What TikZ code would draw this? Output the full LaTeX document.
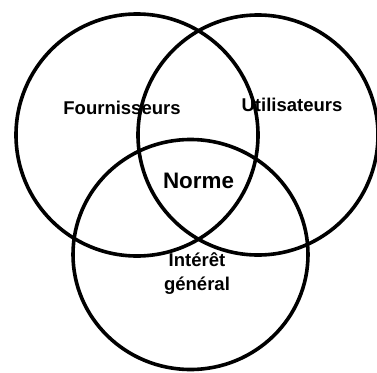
\documentclass[tikz,border=0pt]{standalone}
\usepackage{fontspec}
\setmainfont{Liberation Sans}
\begin{document}
\begin{tikzpicture}[x=1pt, y=-1pt, set/.style={draw, line width=3.6pt}, every node/.style={font=\bfseries\fontsize{18.5}{24}\selectfont, align=center}]
            \useasboundingbox (0,0) rectangle (377,372);

            % Circles
            \draw[set] (137,135) circle[radius=121pt];
            \draw[set] (258,135) circle[radius=120pt];
            \draw[set] (190.5,254.5) ellipse[x radius=117.5pt, y radius=115pt];

            % Labels
            \node at (122,108) (four) {Fournisseurs};
            \node at (292,105) (util) {Utilisateurs};
            \node[font=\bfseries\fontsize{22.4}{26}\selectfont] at (198.5,181) (norme) {Norme};
            \node at (197,274) (interet) {Intérêt\\général};
        \end{tikzpicture}
\end{document}
